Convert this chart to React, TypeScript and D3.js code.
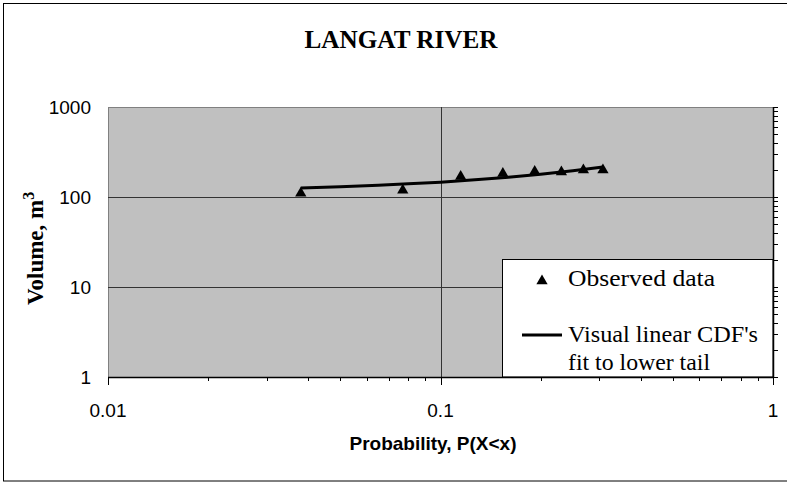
import React from "react";
import * as d3 from "d3";

const obsProb = [0.038, 0.077, 0.115, 0.154, 0.192, 0.231, 0.269, 0.308];
const obsVolume = [110, 119, 169, 182, 192, 190, 200, 200];

const fitProb = [0.038, 0.05, 0.065, 0.08, 0.1, 0.13, 0.16, 0.2, 0.25, 0.308];
const fitVolume = [126, 130, 135, 140, 146, 156, 166, 179, 196, 215];

const xTicks = [0.01, 0.1, 1];
const yTicks = [1, 10, 100, 1000];

const SERIF = "'Liberation Serif', 'Times New Roman', serif";
const SANS = "'Liberation Sans', Arial, sans-serif";

export default function App() {
  const W = 787, H = 485;
  const L = 108, R = 773, T = 107, B = 377;
  const x = d3.scaleLog().domain([0.01, 1]).range([L, R]);
  const y = d3.scaleLog().domain([1, 1000]).range([B, T]);

  const minorX: number[] = [];
  for (const d of [0.01, 0.1]) for (let k = 1; k <= 9; k++) minorX.push(d * k);
  const minorY: number[] = [];
  for (const d of [1, 10, 100]) for (let k = 1; k <= 9; k++) minorY.push(d * k);

  const line = d3
    .line<number>()
    .x((_, i) => x(fitProb[i]))
    .y((_, i) => y(fitVolume[i]));

  const tri = d3.symbol().type(d3.symbolTriangle).size(55)();

  return (
    <svg
      width={W}
      height={H}
      style={{ position: "absolute", left: 0, top: 0, background: "#fff" }}
    >
      <rect x={3.5} y={3.5} width={790} height={477.5} fill="#fff" stroke="#000" strokeWidth={1} />
      <text
        x={401}
        y={48}
        textAnchor="middle"
        fontFamily={SERIF}
        fontWeight="bold"
        fontSize={26}
        textLength={193}
        lengthAdjust="spacingAndGlyphs"
      >
        LANGAT RIVER
      </text>

      <rect x={L} y={T} width={R - L} height={B - T} fill="#c0c0c0" />
      <line x1={L} x2={R} y1={T + 0.5} y2={T + 0.5} stroke="#808080" />
      <line x1={L + 0.5} x2={L + 0.5} y1={T} y2={B} stroke="#808080" />

      {[10, 100].map((v) => (
        <line key={"gy" + v} x1={L} x2={R} y1={Math.round(y(v)) + 0.5} y2={Math.round(y(v)) + 0.5} stroke="#333" />
      ))}
      <line x1={Math.round(x(0.1)) + 0.5} x2={Math.round(x(0.1)) + 0.5} y1={T} y2={B} stroke="#333" />

      {/* fit line and observations */}
      <path d={line(fitProb) || ""} fill="none" stroke="#000" strokeWidth={3} />
      {obsProb.map((p, i) => (
        <path key={"o" + i} d={tri || ""} transform={`translate(${x(p)},${y(obsVolume[i])})`} fill="#000" />
      ))}

      {/* legend */}
      <rect x={502.5} y={259.5} width={R - 502.5} height={B - 259.5} fill="#fff" stroke="#000" />
      <path d={tri || ""} transform="translate(542,281)" fill="#000" />
      <text x={568} y={286} fontFamily={SERIF} fontSize={24} textLength={147} lengthAdjust="spacingAndGlyphs">
        Observed data
      </text>
      <line x1={522} x2={562} y1={335} y2={335} stroke="#000" strokeWidth={3} />
      <text x={568} y={342} fontFamily={SERIF} fontSize={24} textLength={190} lengthAdjust="spacingAndGlyphs">
        Visual linear CDF's
      </text>
      <text x={568} y={370} fontFamily={SERIF} fontSize={24} textLength={142} lengthAdjust="spacingAndGlyphs">
        fit to lower tail
      </text>

      {/* bottom axis */}
      <line x1={L} x2={R} y1={B + 0.5} y2={B + 0.5} stroke="#000" strokeWidth={1.5} />
      {minorX.map((v, i) => (
        <line
          key={"mx" + i}
          x1={Math.round(x(v)) + 0.5}
          x2={Math.round(x(v)) + 0.5}
          y1={B}
          y2={B + (xTicks.includes(v) ? 8 : 4)}
          stroke="#000"
        />
      ))}
      <line x1={R + 0.5} x2={R + 0.5} y1={B} y2={B + 8} stroke="#000" />
      {xTicks.map((v) => (
        <text key={"xt" + v} x={x(v)} y={417} textAnchor="middle" fontFamily={SANS} fontSize={19}>
          {v}
        </text>
      ))}

      {/* right axis */}
      <line x1={R + 0.5} x2={R + 0.5} y1={T} y2={B} stroke="#000" strokeWidth={1.5} />
      {minorY.map((v, i) => (
        <line
          key={"my" + i}
          x1={R}
          x2={R + 5}
          y1={Math.round(y(v)) + 0.5}
          y2={Math.round(y(v)) + 0.5}
          stroke="#000"
        />
      ))}
      <line x1={R} x2={R + 5} y1={T + 0.5} y2={T + 0.5} stroke="#000" />

      {yTicks.map((v) => (
        <text key={"yt" + v} x={91} y={y(v) + 7} textAnchor="end" fontFamily={SANS} fontSize={19}>
          {v}
        </text>
      ))}

      {/* axis titles */}
      <text
        transform="translate(43,305) rotate(-90)"
        textAnchor="start"
        fontFamily={SERIF}
        fontWeight="bold"
        fontSize={23}
      >
        Volume, m
        <tspan dy={-9} fontSize={16}>3</tspan>
      </text>
      <text x={433} y={450} textAnchor="middle" fontFamily={SANS} fontWeight="bold" fontSize={19}>
        Probability, P(X&lt;x)
      </text>
    </svg>
  );
}
